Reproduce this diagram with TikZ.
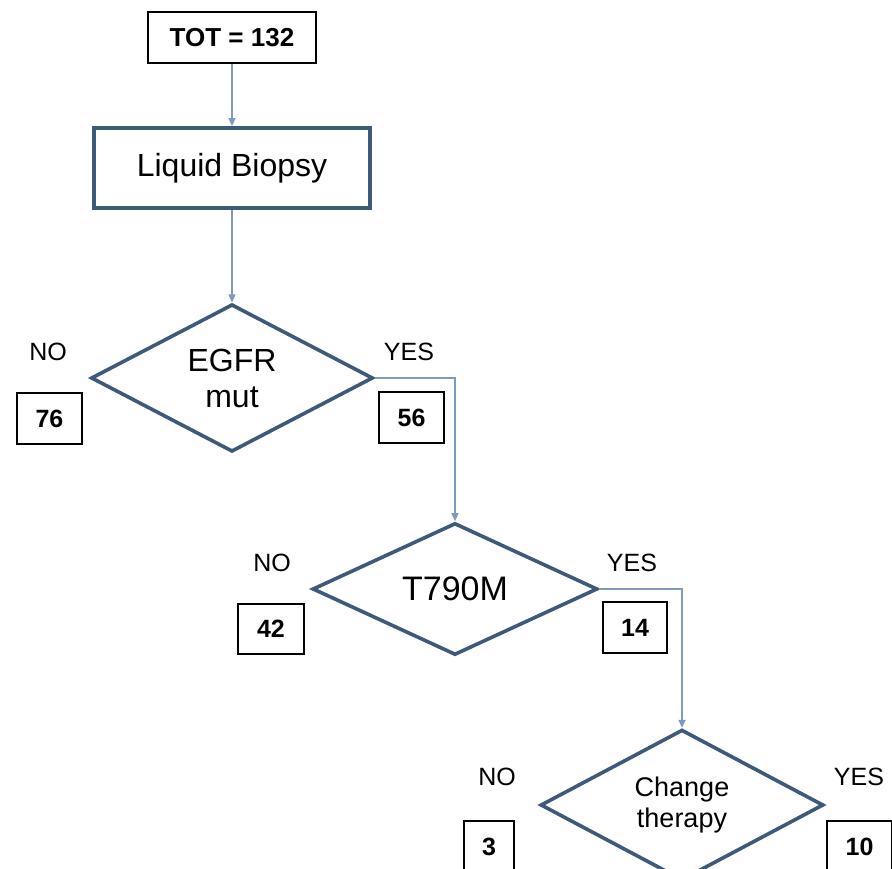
\documentclass[tikz,border=0pt]{standalone}
\usepackage{fontspec}
\setmainfont{Liberation Sans}
\usetikzlibrary{shapes.geometric,arrows.meta}
\definecolor{dia}{HTML}{3D5A7A}
\definecolor{conn}{HTML}{7D9BBD}
\tikzset{
  x=1pt,y=-1pt,
  flow/.style={draw=conn,line width=1.4pt,-{Triangle[length=8pt,width=7pt]}},
  decision/.style={diamond,draw=dia,line width=3.6pt,inner sep=0pt,align=center,
     font=\fontsize{32}{38}\selectfont},
  numbox/.style={draw=black,line width=1.3pt,inner sep=0pt,
     font=\fontsize{25}{30}\selectfont\bfseries},
  yn/.style={inner sep=0pt,font=\fontsize{25}{30}\selectfont},
}
\begin{document}
\begin{tikzpicture}
\fill[white] (0,0) rectangle (892,869);
\clip (0,0) rectangle (892,869);
\useasboundingbox (0,0) rectangle (892,869);

\node[draw=black,line width=1.4pt,minimum width=168pt,minimum height=51pt,inner sep=0pt,
  font=\fontsize{26}{30}\selectfont\bfseries] (tot) at (232,37.5) {TOT = 132};
\node[draw=dia,line width=3.8pt,minimum width=276pt,minimum height=80pt,inner sep=0pt,
  font=\fontsize{32}{38}\selectfont] (lb) at (232,168) {Liquid Biopsy};

\node[decision,minimum width=282pt,minimum height=130pt] (egfr) at (232,378) {EGFR\\[-2pt]mut};
\node[decision,minimum width=285pt,minimum height=132pt,font=\fontsize{34}{40}\selectfont] (t790) at (455,589) {T790M};
\node[decision,minimum width=283pt,minimum height=130pt,font=\fontsize{27}{32}\selectfont] (chg) at (682,805) {Change\\[-1pt]therapy};

\node[yn] (no1) at (48,352) {NO};
\node[yn] (yes1) at (409,352) {YES};
\node[yn] (no2) at (272,563) {NO};
\node[yn] (yes2) at (632,563) {YES};
\node[yn] (no3) at (497,777) {NO};
\node[yn] (yes3) at (859,777) {YES};

\node[numbox,minimum width=65pt,minimum height=51pt] (n76) at (49.5,418.5) {76};
\node[numbox,minimum width=65pt,minimum height=51pt] (n56) at (411.5,417.5) {56};
\node[numbox,minimum width=66pt,minimum height=50pt] (n42) at (271,629) {42};
\node[numbox,minimum width=64pt,minimum height=51pt] (n14) at (635,627.5) {14};
\node[numbox,minimum width=50pt,minimum height=52pt] (n3) at (489,847) {3};
\node[numbox,minimum width=65pt,minimum height=52pt] (n10) at (859.5,847) {10};

\draw[flow] (tot) -- (lb);
\draw[flow] (lb) -- (egfr.north);
\draw[flow] (egfr.east) -| (t790.north);
\draw[flow] (t790.east) -| (chg.north);
\end{tikzpicture}
\end{document}
